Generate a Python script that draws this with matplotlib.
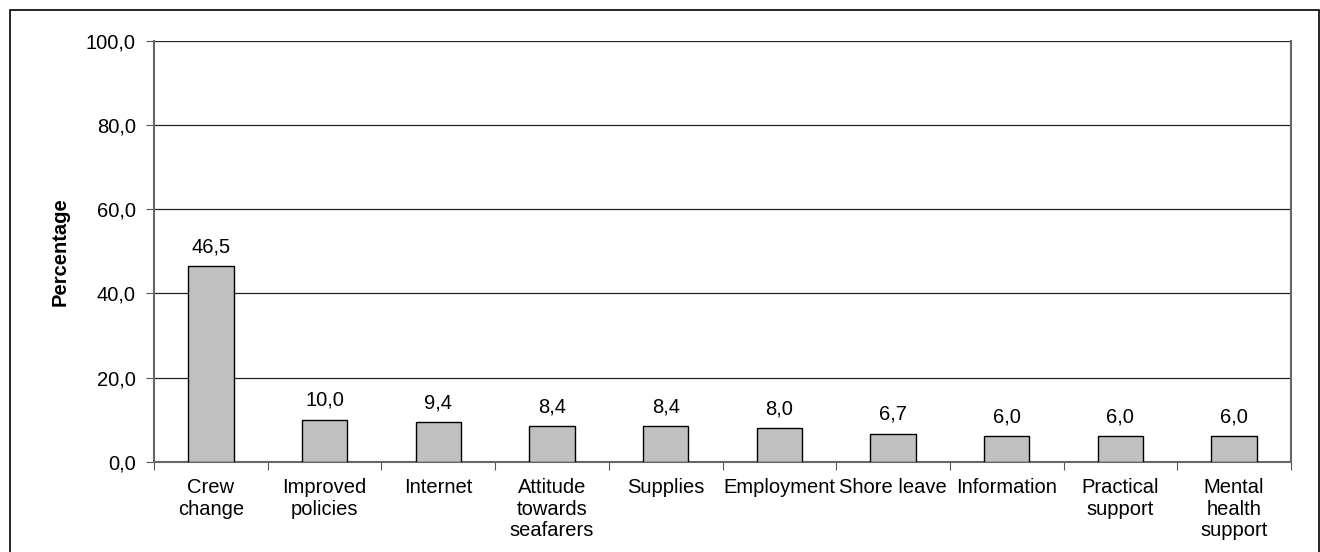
import matplotlib.pyplot as plt
from matplotlib.patches import Rectangle

plt.rcParams['font.family'] = ['Liberation Sans', 'DejaVu Sans']

categories = ['Crew\nchange', 'Improved\npolicies', 'Internet', 'Attitude\ntowards\nseafarers',
              'Supplies', 'Employment', 'Shore leave', 'Information', 'Practical\nsupport',
              'Mental\nhealth\nsupport']
values = [46.5, 10.0, 9.4, 8.4, 8.4, 8.0, 6.7, 6.0, 6.0, 6.0]
yticks = [0, 20, 40, 60, 80, 100]

fs = 14.5

fig = plt.figure(figsize=(13.2, 5.52), dpi=100)
ax = fig.add_axes([0.1167, 0.1636, 0.8613, 0.7621])

# frame round the whole chart
fig.patches.append(Rectangle((10 / 1320, -0.1), 1319 / 1320 - 10 / 1320, 1.1 - 10 / 552,
                             transform=fig.transFigure, fill=False, edgecolor='black',
                             linewidth=1.2))

x = list(range(len(categories)))
ax.bar(x, values, width=0.4, color='#c0c0c0', edgecolor='black', linewidth=1, zorder=3)
for xi, v in zip(x, values):
    ax.text(xi, v + 2.3, f'{v:.1f}'.replace('.', ','), ha='center', va='bottom', fontsize=fs)

ax.set_xlim(-0.5, len(categories) - 0.5)
ax.set_ylim(0, 100)
ax.set_yticks(yticks)
ax.set_yticklabels([f'{t:.1f}'.replace('.', ',') for t in yticks], fontsize=fs)
ax.yaxis.grid(True, color='#222222', linewidth=0.9, zorder=0)
ax.set_axisbelow(True)

# category ticks sit between the bars, names centred under each bar
ax.set_xticks([i - 0.5 for i in range(len(categories) + 1)])
ax.set_xticklabels([])
ax.set_xticks(x, minor=True)
ax.set_xticklabels(categories, minor=True, fontsize=fs, va='top', linespacing=1.17)
ax.tick_params(axis='x', which='minor', length=0, pad=12)
ax.tick_params(axis='x', which='major', length=6, color='#555555', direction='out')
ax.tick_params(axis='y', length=6, color='#555555', pad=7)

for side in ['left', 'right', 'bottom']:
    ax.spines[side].set_color('#666666')
    ax.spines[side].set_linewidth(1.5)
ax.spines['top'].set_visible(False)

ax.set_ylabel('Percentage', fontsize=fs, fontweight='bold', labelpad=12)

fig.savefig('out.png', dpi=100)
